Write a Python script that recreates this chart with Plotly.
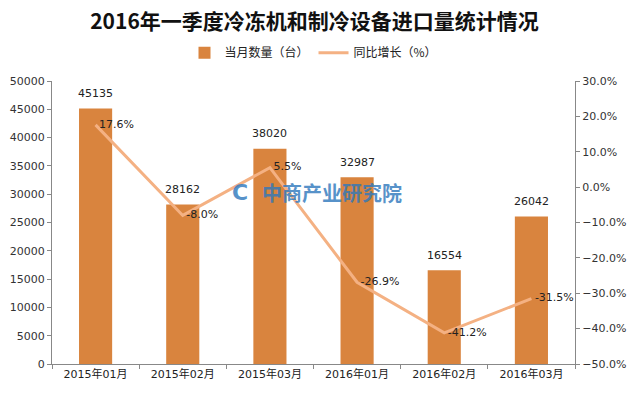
import plotly.graph_objects as go

categories = ["2015年01月", "2015年02月", "2015年03月", "2016年01月", "2016年02月", "2016年03月"]
quantity = [45135, 28162, 38020, 32987, 16554, 26042]
growth = [17.6, -8.0, 5.5, -26.9, -41.2, -31.5]

FONT = "DejaVu Sans, Noto Sans CJK SC, sans-serif"
BAR_C = "#D9843E"
LINE_C = "#F4B183"

fig = go.Figure()
fig.add_trace(go.Bar(
    x=categories, y=quantity, name="当月数量（台）",
    marker=dict(color=BAR_C, line=dict(width=0)),
    yaxis="y",
))
fig.add_trace(go.Scatter(
    x=categories, y=growth, name="同比增长（%）",
    mode="lines+text", line=dict(color=LINE_C, width=3),
    text=[f" {v:.1f}%" for v in growth], textposition="middle right",
    textfont=dict(size=11, color="#222", family=FONT),
    yaxis="y2", cliponaxis=False,
))

for c, q in zip(categories, quantity):
    fig.add_annotation(x=c, y=q, xref="x", yref="y", text=str(q), showarrow=False,
                       yshift=15, font=dict(size=11, color="#222", family=FONT))

fig.add_annotation(x=0.535, y=0.605, xref="paper", yref="paper", text="<b>中商产业研究院</b>",
                   showarrow=False, font=dict(size=20, color="#2E78BC", family="Noto Sans CJK SC"),
                   opacity=0.8)
fig.add_annotation(x=0.36, y=0.605, xref="paper", yref="paper", text="<b>C</b>",
                   showarrow=False, font=dict(size=22, color="#2E78BC", family="DejaVu Sans"),
                   opacity=0.8)

fig.update_layout(
    width=629, height=394,
    margin=dict(l=52, r=54, t=81, b=30),
    paper_bgcolor="white", plot_bgcolor="white",
    font=dict(family=FONT, size=11, color="#333"),
    title=dict(text="<b>2016年一季度冷冻机和制冷设备进口量统计情况</b>", x=0.5, xanchor="center",
               y=0.945, yanchor="middle", font=dict(size=21, color="#111", family="Noto Sans CJK SC")),
    bargap=0.62,
    showlegend=True,
    legend=dict(orientation="h", x=0.5, xanchor="center", y=1.1, yanchor="middle",
                font=dict(size=12, color="#222", family="Noto Sans CJK SC"),
                traceorder="normal", itemwidth=30),
    xaxis=dict(showline=True, linecolor="#888", ticks="outside", tickson="boundaries",
               ticklen=4, tickcolor="#888", showgrid=False,
               tickfont=dict(size=11, color="#222", family=FONT)),
    yaxis=dict(range=[0, 50000], dtick=5000, tickformat="d", showline=True, linecolor="#888",
               ticks="outside", ticklen=4, tickcolor="#888", showgrid=False, zeroline=False,
               automargin=False, tickfont=dict(size=11, color="#333")),
    yaxis2=dict(range=[-50, 30], dtick=10, tickformat=".1f", ticksuffix="%", overlaying="y",
                side="right", showline=True, linecolor="#888", ticks="outside", ticklen=4,
                tickcolor="#888", showgrid=False, zeroline=False, automargin=False,
                tickfont=dict(size=11, color="#333")),
)

fig.write_html("out.html", config={"displayModeBar": False},
               post_script="document.body.style.margin='0';document.body.style.overflow='hidden';")
